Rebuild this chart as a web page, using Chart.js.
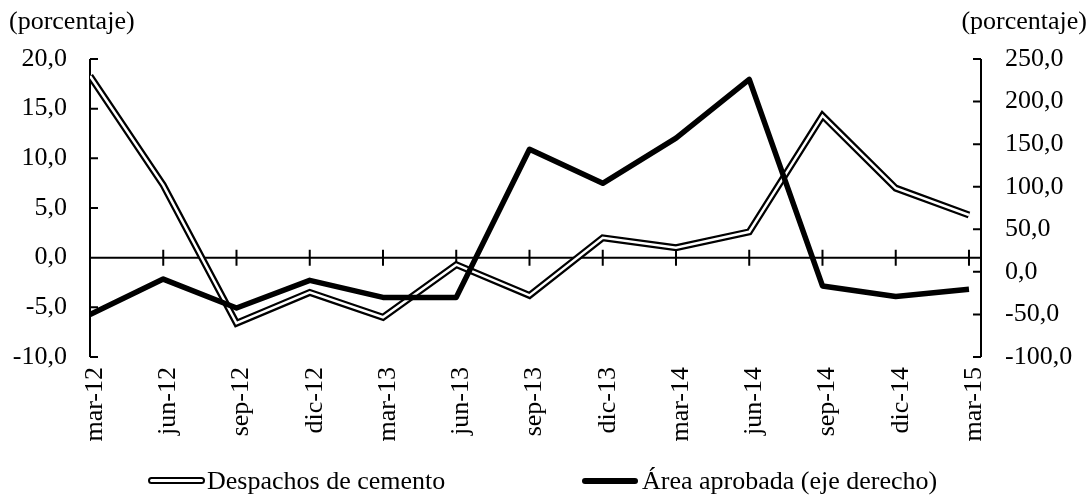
<!DOCTYPE html>
<html>
<head>
<meta charset="utf-8">
<script src="https://cdn.jsdelivr.net/npm/chart.js"></script>
<style>
  body { margin: 0; background: #fff; }
  #wrap { position: relative; width: 1091px; height: 496px; overflow: hidden; font-family: "Liberation Serif", "Times New Roman", serif; color: #000; }
  .title { position: absolute; top: 6px; font-size: 26px; line-height: 30px; }
  .legend { position: absolute; top: 466px; font-size: 26px; line-height: 30px; white-space: nowrap; }
  .sw { position: absolute; }
</style>
</head>
<body>
<div id="wrap">
  <canvas id="myChart"></canvas>
  <div class="title" style="left:9px">(porcentaje)</div>
  <div class="title" style="right:4px">(porcentaje)</div>
  <!-- legend swatches -->
  <div class="sw" style="left:148px; top:477px; width:53px; height:3px; border:2.5px solid #000; border-radius:4px; background:#fff;"></div>
  <div class="legend" style="left:207px">Despachos de cemento</div>
  <div class="sw" style="left:582px; top:478px; width:56px; height:6px; border-radius:3px; background:#000;"></div>
  <div class="legend" style="left:642px">Área aprobada (eje derecho)</div>
</div>

<script>
    // categories and series
    const categories = ['mar-12', 'jun-12', 'sep-12', 'dic-12', 'mar-13', 'jun-13', 'sep-13',
                        'dic-13', 'mar-14', 'jun-14', 'sep-14', 'dic-14', 'mar-15'];
    const despachos = [18.3, 7.3, -6.6, -3.5, -6.0, -0.7, -3.8, 2.0, 1.0, 2.6, 14.3, 7.0, 4.3];
    const areaAprobada = [-50, -8.5, -42.5, -10, -30, -30, 144, 104, 157, 226, -16.5, -29, -20.5];

    const fmt = v => v.toFixed(1).replace('.', ',');
    const toXY = arr => arr.map((v, i) => ({ x: i, y: v }));

    // axis lines, inner tick marks and the zero line
    const axesPlugin = {
        id: 'axesPlugin',
        beforeDatasetsDraw(chart) {
            const { ctx, chartArea: a, scales } = chart;
            ctx.save();
            ctx.strokeStyle = '#000';
            ctx.lineWidth = 2;
            ctx.beginPath();
            // left axis
            ctx.moveTo(a.left, a.top); ctx.lineTo(a.left, a.bottom);
            scales.y.ticks.forEach(t => {
                const y = scales.y.getPixelForValue(t.value);
                ctx.moveTo(a.left, y); ctx.lineTo(a.left + 8, y);
            });
            // right axis
            ctx.moveTo(a.right, a.top); ctx.lineTo(a.right, a.bottom);
            scales.y2.ticks.forEach(t => {
                const y = scales.y2.getPixelForValue(t.value);
                ctx.moveTo(a.right, y); ctx.lineTo(a.right - 8, y);
            });
            // zero line with category ticks
            const y0 = scales.y.getPixelForValue(0);
            ctx.moveTo(a.left, y0); ctx.lineTo(a.right, y0);
            categories.forEach((c, i) => {
                const x = scales.x.getPixelForValue(i);
                ctx.moveTo(x, y0 - 8); ctx.lineTo(x, y0 + 8);
            });
            ctx.stroke();
            ctx.restore();
        }
    };

    const ctx = document.getElementById('myChart').getContext('2d');
    const tickFont = { family: 'Liberation Serif', size: 26 };

    const myChart = new Chart(ctx, {
        type: 'line',
        data: {
            datasets: [
                { label: 'Área aprobada (eje derecho)', data: toXY(areaAprobada), yAxisID: 'y2',
                  borderColor: '#000', borderWidth: 5.5, borderJoinStyle: 'round', order: 0 },
                { label: 'Despachos de cemento', data: toXY(despachos), yAxisID: 'y',
                  borderColor: '#fff', borderWidth: 2.5, borderJoinStyle: 'miter', order: 1 },
                { label: 'Despachos (borde)', data: toXY(despachos), yAxisID: 'y',
                  borderColor: '#000', borderWidth: 7, borderJoinStyle: 'miter', order: 2 }
            ]
        },
        options: {
            responsive: true,
            maintainAspectRatio: false,
            animation: false,
            layout: { padding: { top: 59, left: 0, right: 0, bottom: 0 } },
            elements: { point: { radius: 0 }, line: { tension: 0, fill: false } },
            plugins: { legend: { display: false }, tooltip: { enabled: false } },
            scales: {
                x: {
                    type: 'linear', position: 'bottom',
                    min: 0, max: 12.164,
                    grid: { display: false, drawTicks: false }, border: { display: false },
                    ticks: {
                        stepSize: 1, includeBounds: false, autoSkip: false,
                        maxRotation: 90, minRotation: 90, padding: 10, labelOffset: 5,
                        color: '#000', font: tickFont,
                        callback: v => categories[v] ?? ''
                    },
                    afterFit: s => { s.height = 139; }
                },
                y: {
                    position: 'left', min: -10, max: 20,
                    grid: { display: false, drawTicks: false }, border: { display: false },
                    ticks: { stepSize: 5, padding: 23, color: '#000', font: tickFont, callback: fmt },
                    afterFit: s => { s.width = 90; }
                },
                y2: {
                    position: 'right', min: -100, max: 250,
                    grid: { display: false, drawTicks: false }, border: { display: false },
                    ticks: { stepSize: 50, padding: 24, color: '#000', font: tickFont, callback: fmt },
                    afterFit: s => { s.width = 110; }
                }
            }
        },
        plugins: [axesPlugin]
    });
</script>
</body>
</html>
